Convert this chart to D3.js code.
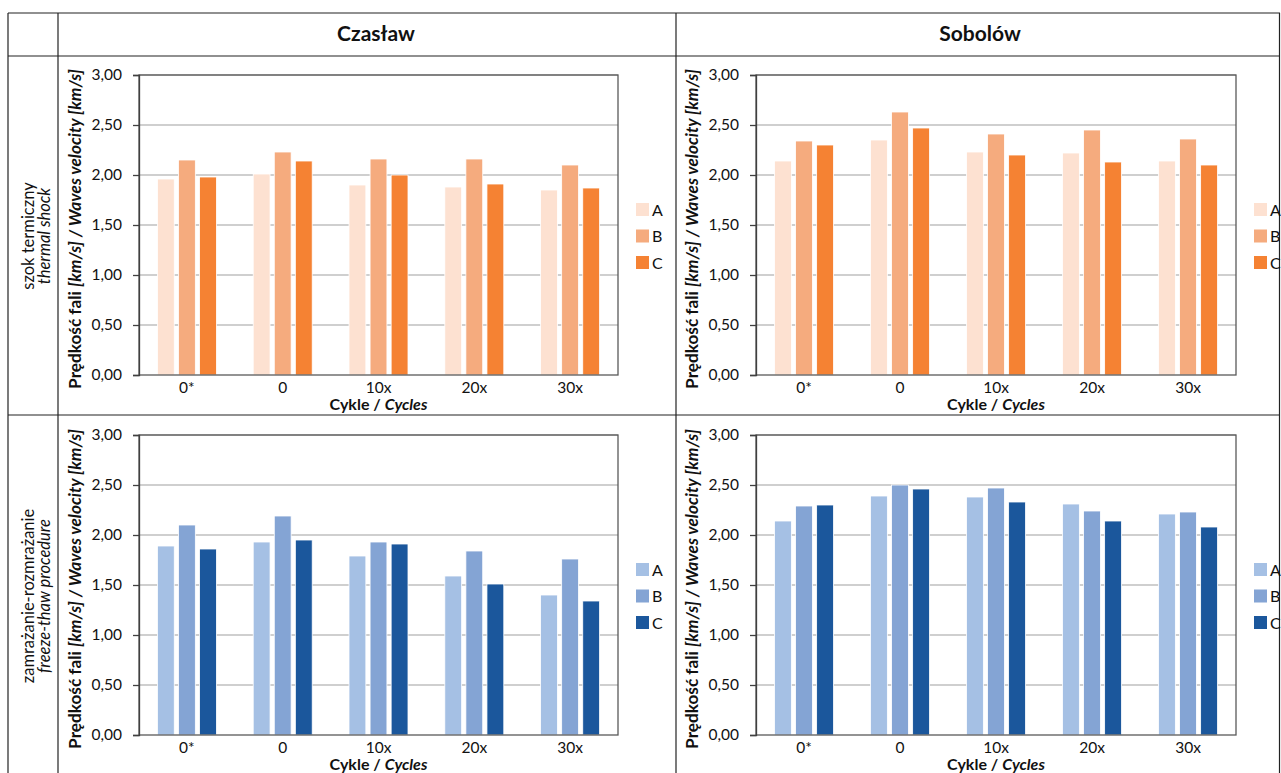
<!DOCTYPE html>
<html><head><meta charset="utf-8">
<script src="https://cdn.jsdelivr.net/npm/d3@7"></script>
<style>body{margin:0;background:#fff}svg{display:block}text{font-family:Lato,"Open Sans",sans-serif;fill:#111}</style>
</head><body><svg id="c" width="1281" height="773"></svg>
<script>
const categories = ["0*", "0", "10x", "20x", "30x"];
const seriesNames = ["A", "B", "C"];
const yTicks = [0, 0.5, 1, 1.5, 2, 2.5, 3];
const columnTitles = ["Czasław", "Sobolów"];
const rowTitles = [["szok termiczny", "thermal shock"], ["zamrażanie-rozmrażanie", "freeze-thaw procedure"]];
// values [A,B,C] per category
const czaslawThermal = [[1.96,2.15,1.98],[2.01,2.23,2.14],[1.90,2.16,2.00],[1.88,2.16,1.91],[1.85,2.10,1.87]];
const sobolowThermal = [[2.14,2.34,2.30],[2.35,2.63,2.47],[2.23,2.41,2.20],[2.22,2.45,2.13],[2.14,2.36,2.10]];
const czaslawFreeze  = [[1.89,2.10,1.86],[1.93,2.19,1.95],[1.79,1.93,1.91],[1.59,1.84,1.51],[1.40,1.76,1.34]];
const sobolowFreeze  = [[2.14,2.29,2.30],[2.39,2.50,2.46],[2.38,2.47,2.33],[2.31,2.24,2.14],[2.21,2.23,2.08]];
const orange = ["#fde1d1", "#f5ab7e", "#f58233"];
const blue = ["#a5c0e4", "#84a4d4", "#1b579c"];

const svg = d3.select("#c");
// table grid
const tbl = svg.append("g").attr("stroke", "#222").attr("stroke-width", 1.2).attr("fill", "none");
[[8,13,1280,13],[8,56,1280,56],[8,415,1280,415],[8,13,8,773],[58,13,58,773],[676,13,676,773],[1279.5,13,1279.5,773]]
  .forEach(l => tbl.append("line").attr("x1",l[0]).attr("y1",l[1]).attr("x2",l[2]).attr("y2",l[3]));
svg.append("text").attr("x", 376).attr("y", 41).attr("text-anchor","middle").attr("font-size",21).attr("font-weight","bold").text(columnTitles[0]);
svg.append("text").attr("x", 980).attr("y", 41).attr("text-anchor","middle").attr("font-size",21).attr("font-weight","bold").text(columnTitles[1]);
[[236,0],[596,1]].forEach(([cy,i]) => {
  const t = svg.append("text").attr("transform",`translate(35,${cy}) rotate(-90)`).attr("text-anchor","middle").attr("font-size",16.5);
  t.append("tspan").attr("x",0).attr("dy",-1).text(rowTitles[i][0]);
  t.append("tspan").attr("x",0).attr("dy",16).attr("font-style","italic").text(rowTitles[i][1]);
});

const panels = [
  {x0:139, x1:618, y0:75, y1:375, data:czaslawThermal, colors:orange},
  {x0:756, x1:1236, y0:75, y1:375, data:sobolowThermal, colors:orange},
  {x0:139, x1:618, y0:435, y1:735, data:czaslawFreeze, colors:blue},
  {x0:756, x1:1236, y0:435, y1:735, data:sobolowFreeze, colors:blue}
];
panels.forEach(p => {
  const g = svg.append("g");
  const x = d3.scaleBand().domain(categories).range([p.x0, p.x1]).padding(0);
  const y = d3.scaleLinear().domain([0, 3]).range([p.y1, p.y0]);
  const gw = 59, bw = x.bandwidth();
  const xi = d3.scaleBand().domain(seriesNames).range([(bw-gw)/2, (bw+gw)/2]).paddingInner(0.2).paddingOuter(0);
  // gridlines
  g.append("g").selectAll("line").data(yTicks.filter(t => t>0)).join("line")
    .attr("x1", p.x0).attr("x2", p.x1).attr("y1", d => y(d)).attr("y2", d => y(d))
    .attr("stroke", "#bfbfbf").attr("stroke-width", 1.5);
  // bars
  categories.forEach((c, ci) => {
    seriesNames.forEach((s, si) => {
      const v = p.data[ci][si];
      g.append("rect").attr("x", x(c) + xi(s)).attr("width", xi.bandwidth())
        .attr("y", y(v)).attr("height", y(0) - y(v))
        .attr("fill", p.colors[si]).attr("stroke", "#fff").attr("stroke-width", 0.8);
    });
  });
  // frame
  g.append("rect").attr("x", p.x0).attr("y", p.y0).attr("width", p.x1-p.x0).attr("height", p.y1-p.y0)
    .attr("fill","none").attr("stroke","#595959").attr("stroke-width",1.3);
  // y axis
  const ya = g.append("g").attr("transform", `translate(${p.x0},0)`)
    .call(d3.axisLeft(y).tickValues(yTicks).tickSize(6).tickPadding(11).tickFormat(d => d3.format(".2f")(d).replace(".", ",")));
  ya.select(".domain").attr("stroke","#404040").attr("stroke-width",1.3);
  ya.selectAll(".tick line").attr("stroke","#404040").attr("stroke-width",1.3);
  ya.selectAll(".tick text").attr("font-size",15.5).attr("font-family","Lato").attr("fill","#111");
  // x axis labels
  const xa = g.append("g").attr("transform", `translate(0,${p.y1})`).call(d3.axisBottom(x).tickSize(0).tickPadding(7));
  xa.select(".domain").remove();
  xa.selectAll(".tick text").attr("font-size",15.5).attr("font-family","Lato").attr("fill","#111");
  // x title
  const xt = g.append("text").attr("x", (p.x0+p.x1)/2).attr("y", p.y1+35).attr("text-anchor","middle").attr("font-size",16).attr("font-weight","bold");
  xt.append("tspan").text("Cykle / ");
  xt.append("tspan").attr("font-style","italic").text("Cycles");
  // y title
  const yt = g.append("text").attr("transform", `translate(${p.x0-58},${(p.y0+p.y1)/2+4}) rotate(-90)`).attr("text-anchor","middle").attr("font-size",17.2).attr("font-weight","bold");
  yt.append("tspan").text("Prędkość fali ");
  yt.append("tspan").attr("font-style","italic").text("[km/s] / Waves velocity [km/s]");
  // legend
  const lg = g.append("g").attr("transform", `translate(${p.x1+18},${p.y0+128})`);
  seriesNames.forEach((s, i) => {
    lg.append("rect").attr("x",0).attr("y", i*26.5).attr("width",13).attr("height",13).attr("fill",p.colors[i]);
    lg.append("text").attr("x",16).attr("y", i*26.5+12.5).attr("font-size",16).text(s);
  });
});
</script></body></html>
